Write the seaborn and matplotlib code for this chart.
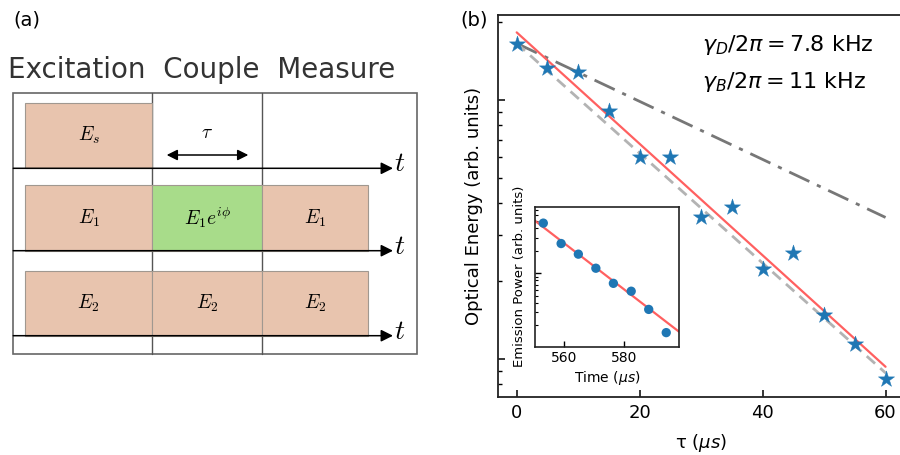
import matplotlib
matplotlib.use("Agg")
import numpy as np
import pandas as pd
import matplotlib.pyplot as plt
import seaborn as sns
from matplotlib.patches import Rectangle
from matplotlib.ticker import LogLocator, NullFormatter, MultipleLocator

# --- panel (b): decay of optical energy ---
tau = [0, 5, 10, 15, 20, 25, 30, 35, 40, 45, 50, 55, 60]
energy = [1.64, 1.33, 1.28, 0.907, 0.60, 0.60, 0.352, 0.387, 0.223, 0.257, 0.148, 0.114, 0.0837]

fit_tau = [0, 60]
fit_total = [1.825, 0.0933]    # solid red fit
fit_dark = [1.655, 0.352]      # dash-dot, gamma_D
fit_bright = [1.655, 0.0883]   # dashed, gamma_B

# --- inset: emission power vs time ---
inset_time = [552.9, 558.9, 564.7, 570.6, 576.5, 582.5, 588.4, 594.3]
inset_power = [4.70, 2.50, 1.80, 1.165, 0.730, 0.572, 0.326, 0.159]
inset_fit_time = [550.0, 598.6]
inset_fit_power = [5.09, 0.1636]

# --- panel (a): pulse schematic ---
phase_title = "Excitation  Couple  Measure"
row_labels = [["$E_s$"],
              ["$E_1$", "$E_1e^{i\\phi}$", "$E_1$"],
              ["$E_2$", "$E_2$", "$E_2$"]]
salmon = "#e8c4ae"
green = "#a8dc8a"
row_colors = [[salmon], [salmon, green, salmon], [salmon, salmon, salmon]]

sns.set_style("ticks")
plt.rcParams["font.family"] = ["DejaVu Sans"]
plt.rcParams.update({"text.color": "black", "axes.labelcolor": "black",
                     "xtick.color": "black", "ytick.color": "black"})

fig = plt.figure(figsize=(9, 4.55), dpi=100)

# ---------------- panel (a) ----------------
ax_a = fig.add_axes([0, 0, 0.5, 1])
ax_a.set_xlim(0, 450)
ax_a.set_ylim(455, 0)
ax_a.axis("off")

col_edges = [25, 152.3, 262.3, 368.3]
box_tops = [102.7, 185, 270.7]
baselines = [168.3, 250.7, 335.7]

ax_a.add_patch(Rectangle((13.3, 92.7), 404, 261.3, fill=False, ec="#666666", lw=1.2, zorder=1))
for xv in col_edges[1:3]:
    ax_a.plot([xv, xv], [92.7, 354], color="#555555", lw=1.0, zorder=1)

for r, labels in enumerate(row_labels):
    top = box_tops[r]
    h = baselines[r] - top
    for c, lab in enumerate(labels):
        x0, x1 = col_edges[c], col_edges[c + 1]
        ax_a.add_patch(Rectangle((x0, top), x1 - x0, h, fc=row_colors[r][c],
                                 ec="#a09890", lw=0.8, zorder=2))
        ax_a.text((x0 + x1) / 2, top + h / 2, lab, fontsize=14, ha="center",
                  va="center", math_fontfamily="cm", zorder=3)
    ax_a.annotate("", xy=(393, baselines[r]), xytext=(13.3, baselines[r]),
                  arrowprops=dict(arrowstyle="-|>", color="black", lw=1.1,
                                  mutation_scale=18, shrinkA=0, shrinkB=0), zorder=4)
    ax_a.text(400, baselines[r] - 5, "$t$", fontsize=20, ha="center", va="center",
              math_fontfamily="cm")

ax_a.annotate("", xy=(166.7, 155), xytext=(248.3, 155),
              arrowprops=dict(arrowstyle="<|-|>", color="black", lw=1.1,
                              mutation_scale=16, shrinkA=0, shrinkB=0))
ax_a.text(206.7, 133, "$\\tau$", fontsize=14, ha="center", va="center", math_fontfamily="cm")

ax_a.text(201.5, 70, phase_title, fontsize=20, ha="center", va="center", color="#333333")
ax_a.text(27, 20, "(a)", fontsize=14, ha="center", va="center")

# ---------------- panel (b) ----------------
ax = fig.add_axes([498 / 900, 1 - 397 / 455, 406 / 900, 382 / 455])
df = pd.DataFrame({"tau": tau, "energy": energy})
fits = pd.DataFrame({"tau": fit_tau, "total": fit_total, "dark": fit_dark, "bright": fit_bright})

sns.lineplot(data=fits, x="tau", y="dark", ax=ax, color="#777777", lw=2.0, zorder=2)
ax.lines[-1].set_dashes([8, 3, 1.5, 3])
sns.lineplot(data=fits, x="tau", y="bright", ax=ax, color="#b3b3b3", lw=2.0, zorder=2)
ax.lines[-1].set_dashes([4, 2.5])
sns.lineplot(data=fits, x="tau", y="total", ax=ax, color="#ff6060", lw=1.6, zorder=3)
sns.scatterplot(data=df, x="tau", y="energy", ax=ax, marker="*", s=150,
                color="#1f77b4", edgecolor="#1f77b4", linewidth=0.3, zorder=4)

ax.set_yscale("log")
ax.set_xlim(-3.04, 63)
ax.set_ylim(0.0713, 2.13)
ax.yaxis.set_major_locator(LogLocator(base=10))
ax.yaxis.set_minor_locator(LogLocator(base=10, subs=np.arange(2, 10)))
ax.yaxis.set_major_formatter(NullFormatter())
ax.yaxis.set_minor_formatter(NullFormatter())
ax.xaxis.set_major_locator(MultipleLocator(20))
ax.tick_params(axis="both", which="major", direction="in", length=5, width=1.1,
               labelsize=13, pad=5)
ax.tick_params(axis="y", which="minor", direction="in", length=3, width=1.0)
for sp in ax.spines.values():
    sp.set_linewidth(1.3)
    sp.set_color("#222222")
ax.set_xlabel("τ ($\\mu s$)", fontsize=13, labelpad=7)
ax.set_ylabel("Optical Energy (arb. units)", fontsize=13, labelpad=6)

ax.text(701.7 / 900, 1 - 45 / 455, "$\\gamma_D/2\\pi = 7.8$ kHz", transform=fig.transFigure,
        fontsize=16, ha="left", va="center")
ax.text(701.7 / 900, 1 - 82 / 455, "$\\gamma_B/2\\pi = 11$ kHz", transform=fig.transFigure,
        fontsize=16, ha="left", va="center")
fig.text(474 / 900, 1 - 20 / 455, "(b)", fontsize=14, ha="center", va="center")

# ---------------- inset ----------------
axi = fig.add_axes([534.7 / 900, 1 - 346.5 / 455, 144.3 / 900, 139.8 / 455])
idf = pd.DataFrame({"time": inset_time, "power": inset_power})
ifit = pd.DataFrame({"time": inset_fit_time, "power": inset_fit_power})
sns.lineplot(data=ifit, x="time", y="power", ax=axi, color="#ff6060", lw=1.6, zorder=2)
sns.scatterplot(data=idf, x="time", y="power", ax=axi, s=45, color="#1f77b4",
                edgecolor="none", zorder=3)
axi.set_yscale("log")
axi.set_xlim(550.0, 598.6)
axi.set_ylim(0.1035, 7.81)
axi.yaxis.set_major_locator(LogLocator(base=10))
axi.yaxis.set_minor_locator(LogLocator(base=10, subs=np.arange(2, 10)))
axi.yaxis.set_major_formatter(NullFormatter())
axi.yaxis.set_minor_formatter(NullFormatter())
axi.xaxis.set_major_locator(MultipleLocator(20))
axi.tick_params(axis="both", which="major", direction="in", length=4, width=1.0,
                labelsize=10, pad=3)
axi.tick_params(axis="y", which="minor", direction="in", length=2.5, width=0.8)
for sp in axi.spines.values():
    sp.set_linewidth(1.2)
    sp.set_color("#222222")
axi.set_xlabel("Time ($\\mu s$)", fontsize=10, labelpad=3)
axi.set_ylabel("Emission Power (arb. units)", fontsize=9.5, labelpad=3)

fig.savefig("out.png", dpi=100)
